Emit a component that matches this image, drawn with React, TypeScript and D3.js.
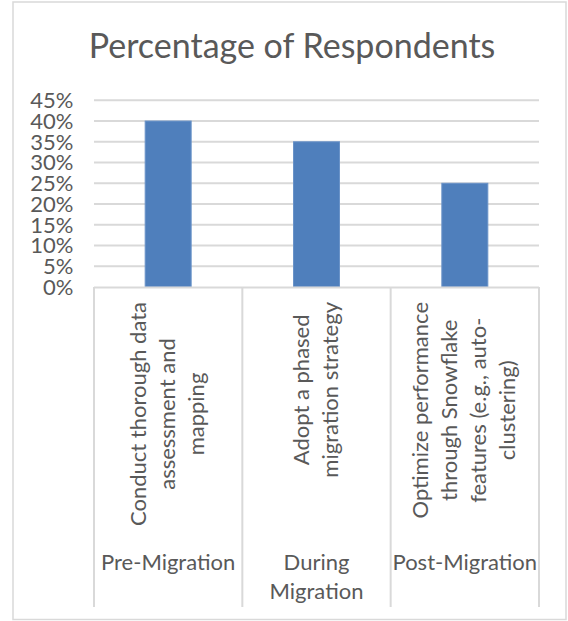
import React, { useEffect, useRef } from "react";
import * as d3 from "d3";

// Survey results: share of respondents naming each practice, per migration phase
const phases = ["Pre-Migration", "During\nMigration", "Post-Migration"];
const practices = [
  "Conduct thorough data\nassessment and\nmapping",
  "Adopt a phased\nmigration strategy",
  "Optimize performance\nthrough Snowflake\nfeatures (e.g., auto-\nclustering)",
];
const percentages = [40, 35, 25];
const tickValues = [0, 5, 10, 15, 20, 25, 30, 35, 40, 45];
const chartTitle = "Percentage of Respondents";

const W = 568;
const H = 621;
const FONT = "Lato, 'Open Sans', 'DejaVu Sans', sans-serif";
const TEXT = "#595959";
const GRID = "#d9d9d9";

export default function App() {
  const ref = useRef<SVGSVGElement | null>(null);

  useEffect(() => {
    const svg = d3.select(ref.current);
    svg.selectAll("*").remove();

    const plot = { left: 94, right: 539, top: 100.3, bottom: 287 };
    const x = d3
      .scaleBand<number>()
      .domain(d3.range(percentages.length))
      .range([plot.left, plot.right]);
    const y = d3.scaleLinear().domain([0, 45]).range([plot.bottom, plot.top]);
    const barW = x.bandwidth() * 0.31;

    // chart frame
    svg
      .append("rect")
      .attr("x", 13)
      .attr("y", 2)
      .attr("width", 553)
      .attr("height", 617.5)
      .attr("fill", "#ffffff")
      .attr("stroke", GRID)
      .attr("stroke-width", 1.5);

    // title
    svg
      .append("text")
      .attr("x", 292)
      .attr("y", 58.3)
      .attr("text-anchor", "middle")
      .attr("font-family", FONT)
      .attr("font-size", 34)
      .attr("fill", TEXT)
      .text(chartTitle);

    // horizontal gridlines
    svg
      .append("g")
      .selectAll("line")
      .data(tickValues.filter((t) => t > 0))
      .join("line")
      .attr("x1", plot.left)
      .attr("x2", plot.right)
      .attr("y1", (d) => y(d))
      .attr("y2", (d) => y(d))
      .attr("stroke", GRID)
      .attr("stroke-width", 2);

    // value axis labels
    svg
      .append("g")
      .selectAll("text")
      .data(tickValues)
      .join("text")
      .attr("x", 73.5)
      .attr("y", (d) => y(d))
      .attr("dy", "0.36em")
      .attr("text-anchor", "end")
      .attr("font-family", FONT)
      .attr("font-size", 22)
      .attr("fill", TEXT)
      .text((d) => `${d}%`);

    // bars
    svg
      .append("g")
      .selectAll("rect")
      .data(percentages)
      .join("rect")
      .attr("x", (_, i) => (x(i) as number) + x.bandwidth() / 2 - barW / 2)
      .attr("y", (d) => y(d))
      .attr("width", barW)
      .attr("height", (d) => y(0) - y(d))
      .attr("fill", "#4f7fbc")
      .attr("stroke", "#6a93c8")
      .attr("stroke-width", 1);

    // category axis line and dividers
    svg
      .append("line")
      .attr("x1", plot.left)
      .attr("x2", plot.right)
      .attr("y1", plot.bottom + 0.5)
      .attr("y2", plot.bottom + 0.5)
      .attr("stroke", GRID)
      .attr("stroke-width", 2);
    const dividers = d3.range(percentages.length + 1).map((i) =>
      i < percentages.length ? (x(i) as number) : plot.right
    );
    svg
      .append("g")
      .selectAll("line")
      .data(dividers)
      .join("line")
      .attr("x1", (d) => d)
      .attr("x2", (d) => d)
      .attr("y1", plot.bottom)
      .attr("y2", 607)
      .attr("stroke", GRID)
      .attr("stroke-width", 2);

    // rotated practice labels, anchored just below the axis
    const lineH = 29;
    practices.forEach((label, i) => {
      const lines = label.split("\n");
      const cx = (x(i) as number) + x.bandwidth() / 2;
      const g = svg.append("g");
      const texts = g
        .selectAll("text")
        .data(lines)
        .join("text")
        .attr("x", 0)
        .attr("y", (_, k) => (k - (lines.length - 1) / 2) * lineH)
        .attr("dy", "0.32em")
        .attr("text-anchor", "middle")
        .attr("font-family", FONT)
        .attr("font-size", 22)
        .attr("fill", TEXT)
        .text((d) => d);
      let maxLen = 0;
      texts.each(function () {
        maxLen = Math.max(maxLen, (this as SVGTextElement).getComputedTextLength());
      });
      const cy = 302 + maxLen / 2;
      g.attr("transform", `translate(${cx},${cy}) rotate(-90)`);
    });

    // phase labels
    phases.forEach((label, i) => {
      const cx = (x(i) as number) + x.bandwidth() / 2;
      svg
        .append("g")
        .selectAll("text")
        .data(label.split("\n"))
        .join("text")
        .attr("x", cx)
        .attr("y", (_, k) => 570 + k * 28.5)
        .attr("text-anchor", "middle")
        .attr("font-family", FONT)
        .attr("font-size", 22)
        .attr("fill", TEXT)
        .text((d) => d);
    });
  }, []);

  return (
    <svg
      ref={ref}
      width={W}
      height={H}
      style={{ position: "absolute", left: 0, top: 0, display: "block" }}
    />
  );
}
